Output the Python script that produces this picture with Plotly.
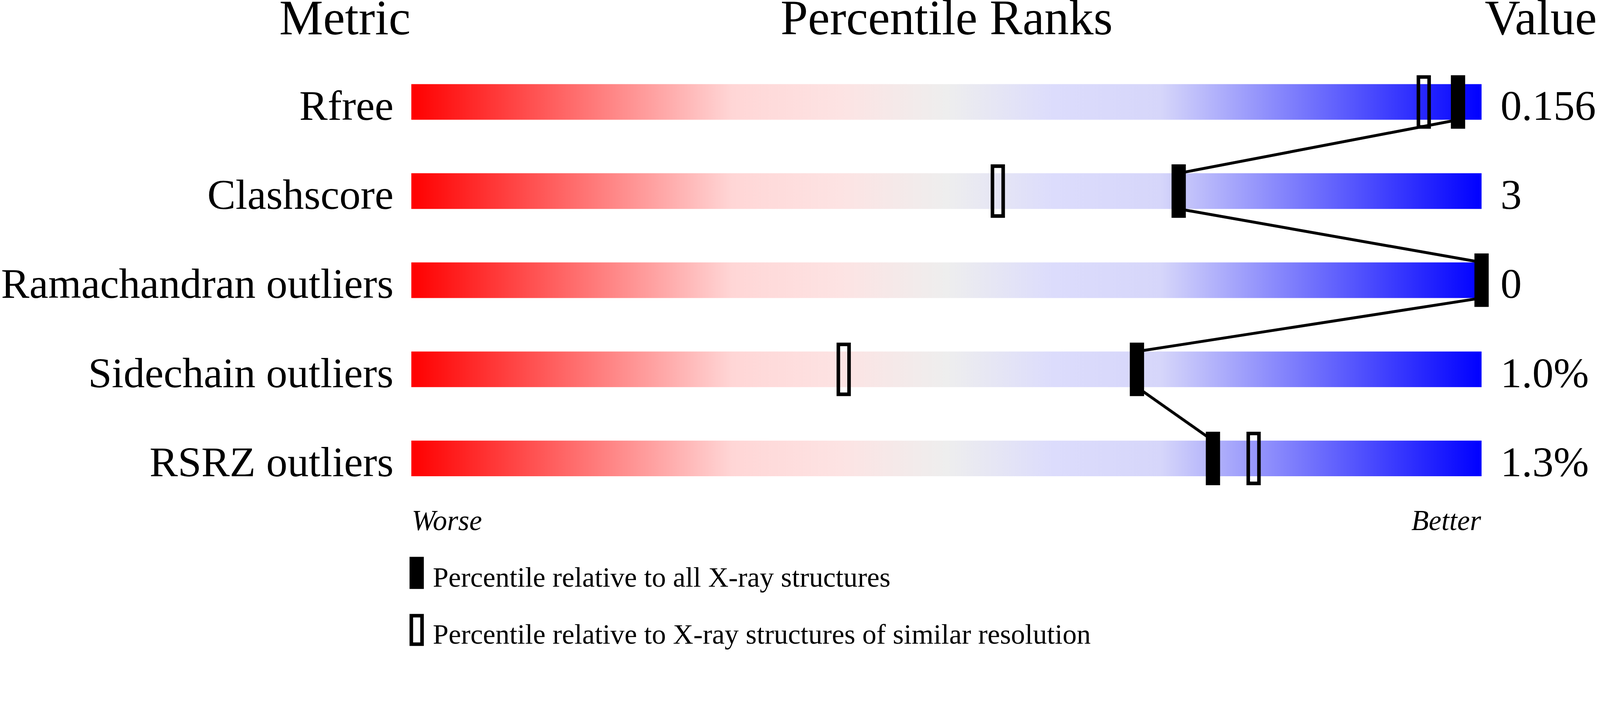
import plotly.graph_objects as go

# ---------------- data ----------------
metrics = ["Rfree", "Clashscore", "Ramachandran outliers", "Sidechain outliers", "RSRZ outliers"]
values = ["0.156", "3", "0", "1.0%", "1.3%"]
pct_all = [97.8, 71.7, 100.0, 67.8, 74.9]          # percentile vs all X-ray structures (filled)
pct_res = [94.6, 54.8, None, 40.4, 78.7]           # percentile vs similar resolution (hollow)
headers = ["Metric", "Percentile Ranks", "Value"]
end_labels = ["Worse", "Better"]
legend_labels = ["Percentile relative to all X-ray structures",
                 "Percentile relative to X-ray structures of similar resolution"]

# ---------------- geometry / style ----------------
W, H = 4485, 1824
FONT = "Liberation Serif"
BAR_L_PX, PX_PER_PCT = 1153, 30.0          # pixel position of percentile 0, pixels per percentile
ROW0_PX, ROW_STEP_PX = 286, 250.0          # pixel centre of first row, row spacing
BAR_HALF = 50 / ROW_STEP_PX                # half bar height in row units

x_range = [(0 - BAR_L_PX) / PX_PER_PCT, (W - BAR_L_PX) / PX_PER_PCT]
y_range = [(H - ROW0_PX) / ROW_STEP_PX, (0 - ROW0_PX) / ROW_STEP_PX]

colorscale = [[0.0, "#ff0000"], [0.3, "#ffd6d6"], [0.4, "#fde3e3"], [0.5, "#eeeeee"],
              [0.6, "#dcdcfc"], [0.7, "#d6d6fa"], [1.0, "#0000ff"]]

fig = go.Figure()
rows = list(range(len(metrics)))

# gradient bars
for r in rows:
    fig.add_trace(go.Scatter(
        x=[0, 100, 100, 0, 0],
        y=[r - BAR_HALF, r - BAR_HALF, r + BAR_HALF, r + BAR_HALF, r - BAR_HALF],
        mode="none", fill="toself",
        fillgradient=dict(type="horizontal", colorscale=colorscale, start=0, stop=100),
        hoverinfo="skip", showlegend=False))

# connecting polyline through filled markers (bar top -> bar bottom of each row)
lx, ly = [], []
for r, p in zip(rows, pct_all):
    lx += [p, p]
    ly += [r - BAR_HALF, r + BAR_HALF]
fig.add_trace(go.Scatter(x=lx, y=ly, mode="lines",
                         line=dict(color="black", width=8), hoverinfo="skip", showlegend=False))

shapes = []
for r, p in zip(rows, pct_all):
    shapes.append(dict(type="rect", xref="x", yref="y", layer="above",
                       xsizemode="pixel", xanchor=p, x0=-20, x1=20,
                       ysizemode="pixel", yanchor=r, y0=-75, y1=75,
                       fillcolor="black", line=dict(width=0)))
for r, p in zip(rows, pct_res):
    if p is None:
        continue
    shapes.append(dict(type="rect", xref="x", yref="y", layer="above",
                       xsizemode="pixel", xanchor=p, x0=-15, x1=15,
                       ysizemode="pixel", yanchor=r, y0=-70, y1=70,
                       fillcolor="rgba(0,0,0,0)", line=dict(color="black", width=10)))

# legend glyphs (paper coordinates)
def px_x(px):
    return px / W

def px_y(py):
    return 1 - py / H

shapes.append(dict(type="rect", xref="paper", yref="paper",
                   x0=px_x(1148), x1=px_x(1188), y0=px_y(1652), y1=px_y(1562),
                   fillcolor="black", line=dict(width=0)))
shapes.append(dict(type="rect", xref="paper", yref="paper",
                   x0=px_x(1153), x1=px_x(1183), y0=px_y(1807), y1=px_y(1727),
                   fillcolor="rgba(0,0,0,0)", line=dict(color="black", width=10)))

annotations = []
LABEL_SIZE = 119
label_shift = -(50 - 0.3375 * LABEL_SIZE)
for r, m, v in zip(rows, metrics, values):
    annotations.append(dict(x=(1104 - BAR_L_PX) / PX_PER_PCT, y=r, xref="x", yref="y",
                            text=m, xanchor="right", yanchor="middle", yshift=label_shift,
                            showarrow=False, borderpad=0,
                            font=dict(family=FONT, size=LABEL_SIZE, color="black")))
    annotations.append(dict(x=(4205 - BAR_L_PX) / PX_PER_PCT, y=r, xref="x", yref="y",
                            text=v, xanchor="left", yanchor="middle", yshift=label_shift,
                            showarrow=False, borderpad=0,
                            font=dict(family=FONT, size=LABEL_SIZE, color="black")))

HEAD_SIZE = 138
head_y = px_y(96 - 0.3375 * HEAD_SIZE)
annotations.append(dict(x=(1152 - BAR_L_PX) / PX_PER_PCT, y=head_y, xref="x", yref="paper",
                        text=headers[0], xanchor="right", yanchor="middle", showarrow=False,
                        borderpad=0, font=dict(family=FONT, size=HEAD_SIZE, color="black")))
annotations.append(dict(x=50, y=head_y, xref="x", yref="paper",
                        text=headers[1], xanchor="center", yanchor="middle", showarrow=False,
                        borderpad=0, font=dict(family=FONT, size=HEAD_SIZE, color="black")))
annotations.append(dict(x=(4161 - BAR_L_PX) / PX_PER_PCT, y=head_y, xref="x", yref="paper",
                        text=headers[2], xanchor="left", yanchor="middle", showarrow=False,
                        borderpad=0, font=dict(family=FONT, size=HEAD_SIZE, color="black")))

END_SIZE = 80
end_y = px_y(1486.5 - 0.3375 * END_SIZE)
annotations.append(dict(x=0, y=end_y, xref="x", yref="paper", text=end_labels[0],
                        xanchor="left", yanchor="middle", showarrow=False, borderpad=0,
                        font=dict(family=FONT, size=END_SIZE, color="black", style="italic")))
annotations.append(dict(x=100, y=end_y, xref="x", yref="paper", text=end_labels[1],
                        xanchor="right", yanchor="middle", showarrow=False, borderpad=0,
                        font=dict(family=FONT, size=END_SIZE, color="black", style="italic")))

LEG_SIZE = 79
for base, txt in zip([1646, 1806], legend_labels):
    annotations.append(dict(x=px_x(1212), y=px_y(base - 0.3375 * LEG_SIZE), xref="paper", yref="paper",
                            text=txt, xanchor="left", yanchor="middle", showarrow=False, borderpad=0,
                            font=dict(family=FONT, size=LEG_SIZE, color="black")))

fig.update_layout(
    width=W, height=H,
    margin=dict(l=0, r=0, t=0, b=0, pad=0),
    paper_bgcolor="white", plot_bgcolor="white",
    xaxis=dict(range=x_range, visible=False, fixedrange=True),
    yaxis=dict(range=y_range, visible=False, fixedrange=True),
    shapes=shapes, annotations=annotations, showlegend=False,
)

# fit the fixed-size figure into whatever CSS viewport the browser provides
fit_script = """
(function(){
  var gd = document.getElementById('{plot_id}');
  document.documentElement.style.margin = '0';
  document.body.style.margin = '0';
  document.body.style.overflow = 'hidden';
  var k = Math.min(window.innerWidth / %d, window.innerHeight / %d);
  if (isFinite(k) && k > 0 && Math.abs(k - 1) > 0.001) {
    gd.style.transformOrigin = '0 0';
    gd.style.transform = 'scale(' + k + ')';
  }
})();
""" % (W, H)

fig.write_html("out.html", post_script=fit_script, config={"displayModeBar": False})
